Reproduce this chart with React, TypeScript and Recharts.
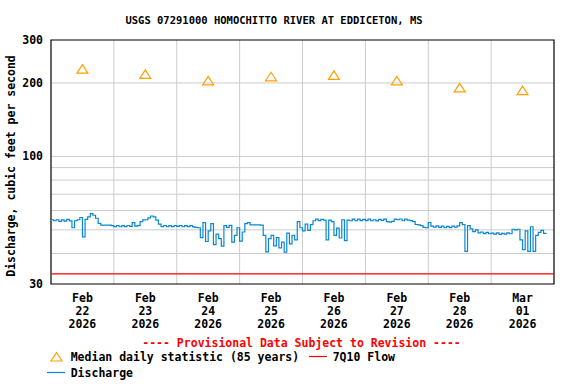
import React from 'react';
import {
  ComposedChart,
  Line,
  Scatter,
  XAxis,
  YAxis,
  CartesianGrid,
  ReferenceLine,
  ReferenceArea,
} from 'recharts';

const W = 576;
const H = 384;
const FONT = '"DejaVu Sans Mono", "Liberation Mono", monospace';

const titleText = 'USGS 07291000 HOMOCHITTO RIVER AT EDDICETON, MS';
const yAxisTitle = 'Discharge, cubic feet per second';
const provisionalText = '---- Provisional Data Subject to Revision ----';
const legendMedian = 'Median daily statistic (85 years)';
const legend7Q10 = '7Q10 Flow';
const legendDischarge = 'Discharge';

// hourly discharge (cfs) starting Feb 22 2026 00:00
const dischargeCfs = [
  // Feb 22
  55.0, 54.5, 55.0, 54.2, 54.9, 54.3, 55.2, 54.4, 51.0, 54.5, 55.0, 56.2,
  46.8, 55.2, 56.5, 58.3, 57.4, 55.8, 53.2, 52.3, 52.3, 52.3, 52.3, 52.0,
  // Feb 23
  51.6, 52.1, 51.5, 52.0, 51.6, 52.1, 51.7, 53.5, 51.8, 52.0, 54.0, 54.9,
  55.0, 56.0, 57.0, 56.5, 54.8, 52.8, 51.6, 52.1, 51.5, 52.0, 51.6, 52.1,
  // Feb 24
  51.7, 52.1, 51.5, 52.0, 51.6, 52.0, 51.4, 51.2, 51.0, 46.5, 53.5, 44.8,
  49.5, 53.0, 43.5, 48.0, 46.0, 42.9, 52.0, 51.2, 52.2, 44.5, 47.5, 51.0,
  // Feb 25
  45.0, 49.0, 53.0, 53.5, 52.4, 52.4, 52.4, 52.4, 52.3, 47.5, 40.6, 46.0,
  47.5, 43.0, 46.5, 42.2, 44.5, 40.5, 48.5, 43.8, 47.5, 45.5, 54.0, 51.0,
  // Feb 26
  49.5, 52.8, 49.8, 52.5, 54.5, 55.3, 54.6, 55.2, 54.8, 45.5, 54.8, 54.0,
  47.5, 50.8, 46.3, 55.0, 45.2, 54.8, 54.5, 55.3, 54.5, 55.3, 54.6, 55.2,
  // Feb 27
  54.6, 55.3, 54.5, 55.0, 54.4, 55.2, 54.7, 55.3, 54.0, 53.8, 54.2, 55.3,
  55.0, 55.4, 54.5, 55.3, 54.8, 54.6, 54.0, 52.6, 52.4, 52.0, 51.2, 51.0,
  // Feb 28
  53.6, 51.8, 51.3, 51.9, 51.2, 51.8, 51.0, 51.7, 51.1, 51.8, 51.3, 51.9,
  53.5, 52.5, 40.8, 52.0, 50.5, 49.2, 50.0, 48.6, 49.0, 48.3, 48.8, 48.2,
  // Mar 01
  48.5, 48.0, 48.6, 47.9, 48.4, 48.0, 48.6, 48.2, 50.3, 50.0, 50.3, 45.5,
  41.5, 49.5, 40.8, 51.5, 40.8, 47.5, 48.8, 49.8, 48.4, 48.6,
];

const medianHours = [12, 36, 60, 84, 108, 132, 156, 180];
const medianCfs = [228, 217, 204, 212, 215, 204, 191, 186];
const sevenQ10Cfs = 33;

const tickHours = [12, 36, 60, 84, 108, 132, 156, 180];
const tickMonth = ['Feb', 'Feb', 'Feb', 'Feb', 'Feb', 'Feb', 'Feb', 'Mar'];
const tickDay = ['22', '23', '24', '25', '26', '27', '28', '01'];
const tickYear = ['2026', '2026', '2026', '2026', '2026', '2026', '2026', '2026'];
const dayBoundaries = [24, 48, 72, 96, 120, 144, 168];
const yTicks = [30, 100, 200, 300];
const yGrid = [40, 50, 60, 70, 80, 90, 100, 200];

const dischargeRows = dischargeCfs.map((q, i) => ({ t: i, q }));
const medianRows = medianHours.map((t, i) => ({ t, v: medianCfs[i] }));

const BLUE = '#0a87d2';
const ORANGE = '#ffa000';
const RED = '#ff0000';
const GRID = '#cccccc';

const XTick = (props: any) => {
  const { x, payload } = props;
  const i = tickHours.indexOf(payload.value);
  if (i < 0) return null;
  const st = { fontFamily: FONT, fontSize: 11.5, fontWeight: 700, fill: '#000' } as any;
  return (
    <g>
      <text x={x} y={302} textAnchor="middle" style={st}>{tickMonth[i]}</text>
      <text x={x} y={315} textAnchor="middle" style={st}>{tickDay[i]}</text>
      <text x={x} y={328} textAnchor="middle" style={st}>{tickYear[i]}</text>
    </g>
  );
};

const YTick = (props: any) => {
  const { y, payload } = props;
  return (
    <text
      x={43}
      y={y + 4}
      textAnchor="end"
      style={{ fontFamily: FONT, fontSize: 11.5, fontWeight: 700, fill: '#000' }}
    >
      {payload.value}
    </text>
  );
};

const Triangle = (props: any) => {
  const { cx, cy } = props;
  if (cx == null || cy == null) return null;
  return (
    <path
      d={`M${cx},${cy - 4.5} L${cx - 5.5},${cy + 4} L${cx + 5.5},${cy + 4} Z`}
      fill="none"
      stroke={ORANGE}
      strokeWidth={1.2}
    />
  );
};

export default function App() {
  const txt = { fontFamily: FONT, fontWeight: 700 } as any;
  return (
    <div style={{ position: 'absolute', left: 0, top: 0, width: W, height: H, background: '#fff' }}>
      <ComposedChart
        width={W}
        height={H}
        margin={{ top: 40, right: 22, bottom: 0, left: 0 }}
      >
        <CartesianGrid
          stroke={GRID}
          strokeWidth={1}
          horizontalValues={yGrid}
          verticalValues={dayBoundaries}
        />
        <XAxis
          dataKey="t"
          type="number"
          domain={[0, 192]}
          ticks={tickHours}
          interval={0}
          axisLine={false}
          tickLine={false}
          height={100}
          tick={<XTick />}
          allowDataOverflow
        />
        <YAxis
          type="number"
          scale="log"
          domain={[30, 300]}
          ticks={yTicks}
          interval={0}
          axisLine={false}
          tickLine={false}
          width={51}
          tick={<YTick />}
          allowDataOverflow
        />
        <ReferenceLine y={sevenQ10Cfs} stroke={RED} strokeWidth={1.2} ifOverflow="extendDomain" />
        <Line
          data={dischargeRows}
          dataKey="q"
          type="stepAfter"
          stroke={BLUE}
          strokeWidth={1.2}
          dot={false}
          activeDot={false}
          isAnimationActive={false}
        />
        <Scatter
          data={medianRows}
          dataKey="v"
          shape={<Triangle />}
          isAnimationActive={false}
        />
        <ReferenceArea
          x1={0}
          x2={192}
          y1={30}
          y2={300}
          fill="none"
          fillOpacity={0}
          stroke="#000"
          strokeWidth={1.2}
          ifOverflow="visible"
        />
      </ComposedChart>
      <svg
        width={W}
        height={H}
        style={{ position: 'absolute', left: 0, top: 0, pointerEvents: 'none' }}
      >
        <text x={274} y={24} textAnchor="middle" style={{ ...txt, fontSize: 10.5 }} fill="#000">
          {titleText}
        </text>
        <text
          x={15}
          y={166}
          textAnchor="middle"
          transform="rotate(-90 15 166)"
          style={{ ...txt, fontSize: 11.5 }}
          fill="#000"
        >
          {yAxisTitle}
        </text>
        <text x={301.5} y={347} textAnchor="middle" style={{ ...txt, fontSize: 11.5 }} fill={RED}>
          {provisionalText}
        </text>
        <path d="M56.5,352.5 L51,361 L62,361 Z" fill="none" stroke={ORANGE} strokeWidth={1.2} />
        <text x={70.7} y={361} style={{ ...txt, fontSize: 11.5 }} fill="#000">
          {legendMedian}
        </text>
        <line x1={309} y1={356.5} x2={327} y2={356.5} stroke={RED} strokeWidth={1.2} />
        <text x={332.7} y={361} style={{ ...txt, fontSize: 11.5 }} fill="#000">
          {legend7Q10}
        </text>
        <line x1={47} y1={372.5} x2={65} y2={372.5} stroke={BLUE} strokeWidth={1.2} />
        <text x={70.7} y={377} style={{ ...txt, fontSize: 11.5 }} fill="#000">
          {legendDischarge}
        </text>
      </svg>
    </div>
  );
}
